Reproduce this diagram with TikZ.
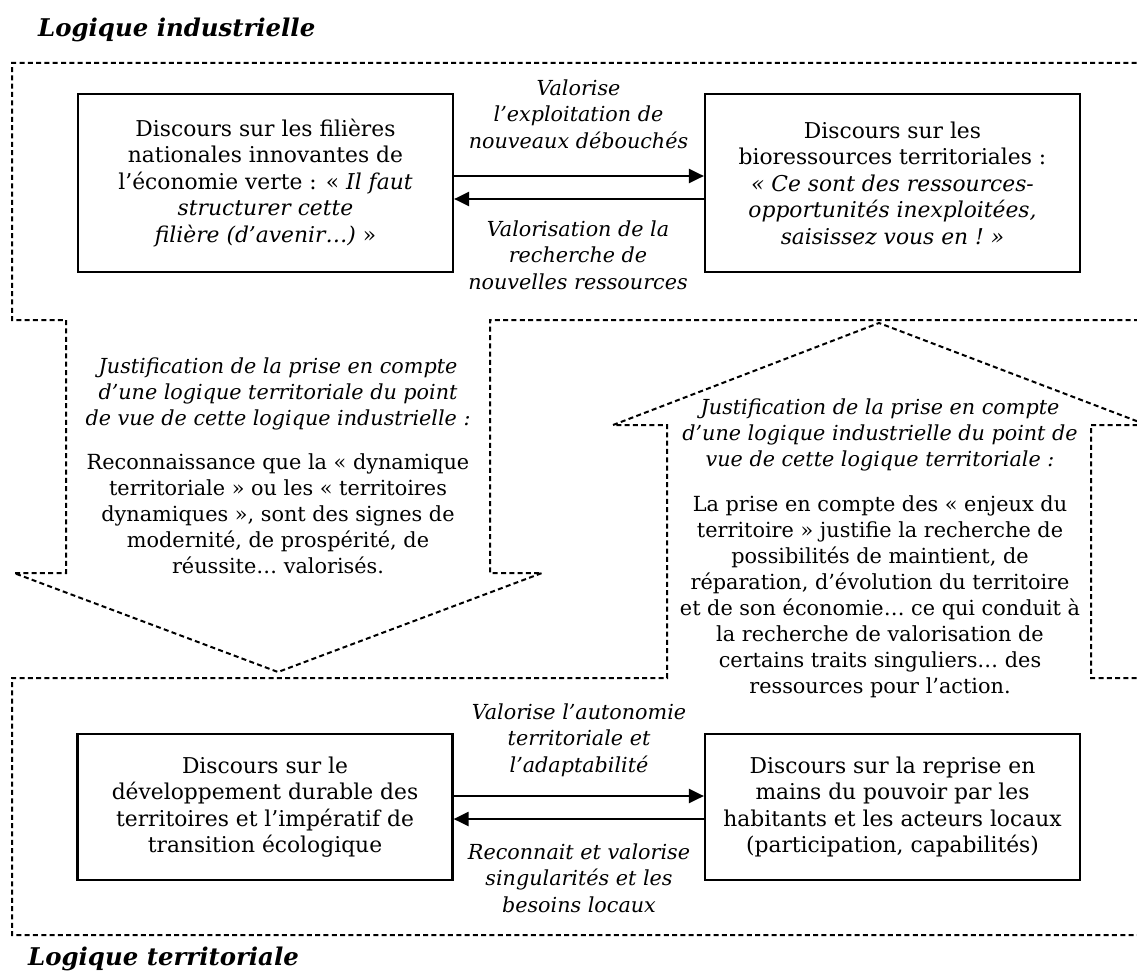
\documentclass[tikz,border=0pt]{standalone}
\usepackage{fontspec}
\setmainfont{DejaVu Serif}
\usetikzlibrary{arrows.meta}
\begin{document}
\begin{tikzpicture}[x=1pt,y=-1pt,
  dsh/.style={line width=2pt, dash pattern=on 5pt off 3.3pt, line join=miter},
  discbox/.style={draw, line width=2.2pt, minimum width=375pt, inner sep=0pt, align=center, font=\fontsize{21.8}{26.5}\selectfont},
  lbl/.style={align=center, inner sep=0pt, font=\fontsize{20.7}{26.3}\selectfont\itshape},
  bodytxt/.style={align=center, inner sep=0pt, font=\fontsize{20.8}{26}\selectfont},
  ttl/.style={anchor=base west, inner sep=0pt, font=\fontsize{24.4}{28}\selectfont\bfseries\itshape},
  conn/.style={line width=2.2pt, -{Triangle[length=15pt,width=14pt]}}
]
\useasboundingbox (0,0) rectangle (1137,979);
% dashed regions
\draw[dsh] (1145,63) -- (12,63) -- (12,320) -- (66,320) -- (66,573) -- (14,573) -- (278,672) -- (542,573) -- (490,573) -- (490,320) -- (1145,320);
\draw[dsh] (1145,678) -- (1091,678) -- (1091,425) -- (1147,425) -- (879,323) -- (613,425) -- (667,425) -- (667,678) -- (12,678) -- (12,935) -- (1145,935);
% titles
\node[ttl] (t1) at (38,37) {Logique industrielle};
\node[ttl] (t2) at (28,965) {Logique territoriale};
% boxes
\node[discbox, minimum height=178pt] (b1) at (265.5,183) {Discours sur les filières\\nationales innovantes de\\l’économie verte : «~\textit{Il faut}\\\textit{structurer cette}\\\textit{filière (d’avenir…)}~»};
\node[discbox, minimum height=178pt] (b2) at (892.5,183) {Discours sur les\\bioressources territoriales :\\\textit{«~Ce sont des ressources-}\\\textit{opportunités inexploitées,}\\\textit{saisissez vous en !~»}};
\node[discbox, minimum height=146pt] (b3) at (265,807) {Discours sur le\\développement durable des\\territoires et l’impératif de\\transition écologique};
\node[discbox, minimum height=146pt] (b4) at (892.5,807) {Discours sur la reprise en\\mains du pouvoir par les\\habitants et les acteurs locaux\\(participation, capabilités)};
% connectors
\draw[conn] ([yshift=7pt]b1.east) -- ([yshift=7pt]b2.west);
\draw[conn] ([yshift=-16pt]b2.west) -- ([yshift=-16pt]b1.east);
\draw[conn] ([yshift=11pt]b3.east) -- ([yshift=11pt]b4.west);
\draw[conn] ([yshift=-12pt]b4.west) -- ([yshift=-12pt]b3.east);
% connector labels
\node[lbl] (l1) at (578.5,114) {Valorise\\l’exploitation de\\nouveaux débouchés};
\node[lbl] (l2) at (578,255) {Valorisation de la\\recherche de\\nouvelles ressources};
\node[lbl] (l3) at (579,740) {Valorise l’autonomie\\territoriale et\\l’adaptabilité};
\node[lbl] (l4) at (579,878) {Reconnait et valorise\\singularités et les\\besoins locaux};
% arrow texts
\node[lbl] (jl1) at (278,394) {Justification de la prise en compte\\d’une logique territoriale du point\\de vue de cette logique industrielle :};
\node[bodytxt] (jl2) at (278,514) {Reconnaissance que la «~dynamique\\territoriale~» ou les «~territoires\\dynamiques~», sont des signes de\\modernité, de prospérité, de\\réussite… valorisés.};
\node[lbl] (jr1) at (880,435) {Justification de la prise en compte\\d’une logique industrielle du point de\\vue de cette logique territoriale :};
\node[bodytxt] (jr2) at (880,597) {La prise en compte des «~enjeux du\\territoire~» justifie la recherche de\\possibilités de maintient, de\\réparation, d’évolution du territoire\\et de son économie… ce qui conduit à\\la recherche de valorisation de\\certains traits singuliers… des\\ressources pour l’action.};
\end{tikzpicture}
\end{document}
